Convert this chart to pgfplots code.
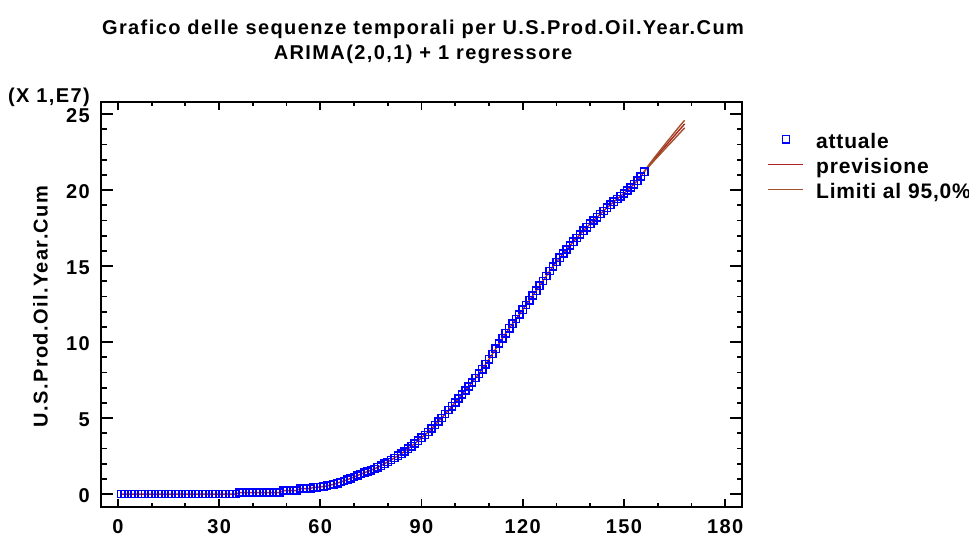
\documentclass[border=0pt]{standalone}
\usepackage{fontspec}
\setmainfont{Liberation Sans}
\newfontfamily\tfont{Liberation Sans}[LetterSpace=7]
\newfontfamily\lfont{Liberation Sans}[LetterSpace=4]
\usepackage{pgfplots}
\pgfplotsset{compat=1.18}
\usepackage{pgfplotstable}

\definecolor{prev}{RGB}{178,34,34}
\definecolor{lim}{RGB}{160,82,45}
\definecolor{mblue}{RGB}{0,0,255}

\pgfplotstableread{
t v
1 0.00
2 0.00
3 0.00
4 0.00
5 0.00
6 0.00
7 0.00
8 0.00
9 0.00
10 0.00
11 0.00
12 0.00
13 0.00
14 0.00
15 0.00
16 0.00
17 0.00
18 0.00
19 0.00
20 0.00
21 0.00
22 0.00
23 0.00
24 0.00
25 0.00
26 0.00
27 0.00
28 0.00
29 0.00
30 0.00
31 0.00
32 0.00
33 0.00
34 0.00
35 0.00
36 0.10
37 0.10
38 0.10
39 0.10
40 0.10
41 0.10
42 0.10
43 0.10
44 0.10
45 0.10
46 0.10
47 0.10
48 0.10
49 0.23
50 0.23
51 0.23
52 0.23
53 0.23
54 0.36
55 0.36
56 0.36
57 0.36
58 0.45
59 0.45
60 0.47
61 0.50
62 0.543
63 0.590
64 0.646
65 0.719
66 0.791
67 0.867
68 0.944
69 1.034
70 1.124
71 1.225
72 1.315
73 1.400
74 1.479
75 1.569
76 1.660
77 1.760
78 1.870
79 1.998
80 2.119
81 2.246
82 2.381
83 2.521
84 2.660
85 2.811
86 2.979
87 3.150
88 3.323
89 3.509
90 3.711
91 3.895
92 4.093
93 4.317
94 4.546
95 4.782
96 5.014
97 5.262
98 5.524
99 5.786
100 6.030
101 6.288
102 6.545
103 6.808
104 7.075
105 7.351
106 7.629
107 7.914
108 8.217
109 8.539
110 8.872
111 9.209
112 9.561
113 9.906
114 10.252
115 10.588
116 10.908
117 11.214
118 11.511
119 11.812
120 12.130
121 12.442
122 12.757
123 13.070
124 13.385
125 13.702
126 14.027
127 14.355
128 14.672
129 14.977
130 15.274
131 15.552
132 15.821
133 16.091
134 16.354
135 16.604
136 16.847
137 17.086
138 17.323
139 17.558
140 17.787
141 18.001
142 18.214
143 18.426
144 18.636
145 18.843
146 19.042
147 19.231
148 19.417
149 19.602
150 19.785
151 19.980
152 20.180
153 20.386
154 20.624
155 20.896
156 21.216
}\actual

\pgfplotstableread{
t c lo hi
156 21.216 21.216 21.216
157 21.50 21.46 21.54
158 21.77 21.70 21.84
159 22.04 21.95 22.13
160 22.30 22.19 22.41
161 22.56 22.43 22.69
162 22.82 22.67 22.97
163 23.08 22.91 23.25
164 23.33 23.14 23.52
165 23.59 23.38 23.80
166 23.85 23.62 24.07
167 24.10 23.86 24.34
168 24.36 24.10 24.60
}\fcst

\newcommand{\tickfont}{\tfont\bfseries\fontsize{20bp}{21bp}\selectfont}

\begin{document}
\begin{tikzpicture}
\useasboundingbox (0bp,0bp) rectangle (969bp,537bp);

% axis B: y ticks and labels
\begin{axis}[
  at={(101bp,30bp)}, anchor=south west,
  scale only axis, width=641bp, height=405bp,
  xmin=-5, xmax=185, ymin=-0.85, ymax=25.8,
  axis line style={line width=2bp, black},
  xtick=\empty,
  ytick={0,5,10,15,20,25},
  minor y tick num=4,
  major tick length=12bp, minor tick length=5.5bp,
  every tick/.style={line width=1.8bp, black},
  tick align=inside,
  /pgf/number format/assume math mode=true,
  yticklabel style={font=\tickfont, anchor=base east, inner sep=0pt, xshift=-11bp, yshift=-8.5bp},
]
\addplot[draw=none, forget plot] coordinates {(0,0)};
\end{axis}

% axis A: x ticks, data, legend
\begin{axis}[
  at={(101bp,30bp)}, anchor=south west,
  scale only axis, width=641bp, height=405bp,
  xmin=-5, xmax=185, ymin=-0.85, ymax=25.8,
  axis line style={line width=2bp, black},
  ytick=\empty,
  xtick={0,30,60,90,120,150,180},
  minor x tick num=2,
  major tick length=8bp, minor tick length=4bp,
  every tick/.style={line width=1.8bp, black},
  tick align=inside,
  /pgf/number format/assume math mode=true,
  xticklabel style={font=\tickfont, anchor=base, inner sep=0pt, yshift=-26.5bp},
  legend cell align=left,
  legend style={draw=none, fill=none, at={(axis description cs:1.0401,0.9277)}, anchor=north west,
    inner sep=0pt, outer sep=0pt, row sep=0pt, column sep=12bp,
    font=\lfont\bfseries\fontsize{21bp}{22bp}\selectfont,
    nodes={inner sep=0pt, outer sep=0pt, text height=17bp, text depth=8bp},
    cells={anchor=base west}},
  legend image code/.code={\draw[mark repeat=2,mark phase=2] plot coordinates {(0bp,9bp) (17.5bp,9bp) (35bp,9bp)};},
]
\addplot[only marks, mark=square, mark size=3.6bp, mark options={draw=mblue, fill=none, line width=1.5bp}] table[x=t,y=v] {\actual};
\addlegendentry{attuale}
\addplot[prev, line width=1.4bp, forget plot] table[x=t,y=v] {\actual};
\addplot[prev, line width=1.4bp] table[x=t,y=c] {\fcst};
\addlegendentry{previsione}
\addplot[lim, line width=1.4bp] table[x=t,y=hi] {\fcst};
\addlegendentry{Limiti al 95,0\%}
\addplot[lim, line width=1.4bp, forget plot] table[x=t,y=lo] {\fcst};
\end{axis}

\node[font=\tickfont, anchor=base, inner sep=0pt] at (423bp,502bp) {Grafico delle sequenze temporali per U.S.Prod.Oil.Year.Cum};
\node[font=\tickfont, anchor=base, inner sep=0pt] at (423bp,477.7bp) {ARIMA(2,0,1) + 1 regressore};
\node[font=\tickfont, anchor=base, inner sep=0pt, rotate=90] at (47.5bp,230.5bp) {U.S.Prod.Oil.Year.Cum};
\node[font=\tickfont, anchor=base east, inner sep=0pt] at (90bp,434.3bp) {(X 1,E7)};
\end{tikzpicture}
\end{document}
